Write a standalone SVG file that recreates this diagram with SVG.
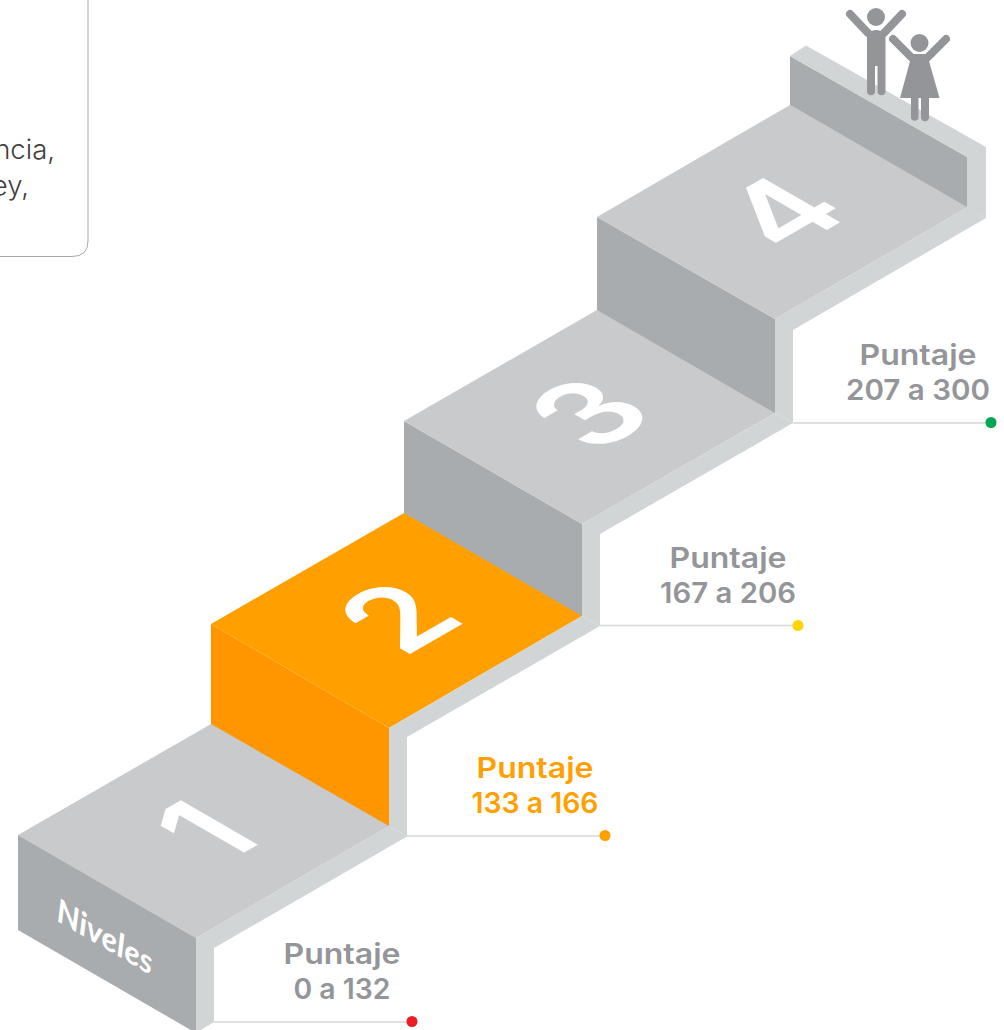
<svg xmlns="http://www.w3.org/2000/svg" width="1004" height="1030" viewBox="0 0 1004 1030">
<style>
.top{fill:#c8cacc}.riser{fill:#a8acae}.light{fill:#d1d5d6}
.lead{stroke:#d5d7d8;stroke-width:1.5;fill:none}
.score{font-family:"Inter","Liberation Sans",sans-serif;font-weight:600;font-size:28.500px;text-anchor:middle;fill:#939598}
.on{fill:#ff9f00}
.num{font-family:"Inter","Liberation Sans",sans-serif;font-weight:600;font-size:122px;text-anchor:middle;fill:#fff}
.note{font-family:"Inter","Liberation Sans",sans-serif;font-weight:300;font-size:27.500px;text-anchor:end;fill:#414042}
.fig{fill:#939598}.limb{stroke:#939598;stroke-width:8;stroke-linecap:round;fill:none}
</style>
<g id="note-box"><path d="M-2 256.500H72Q88 256.500 88 241V-2" fill="#fff" stroke="#a7a9ac" stroke-width="1"/>
<text class="note" x="55" y="159">ncia,</text><text class="note" x="29" y="195">ey,</text></g>
<g id="step-1">
<polygon class="top" points="18,835 211,724 240,730 389,815 389,826 196,938"/>
<polygon class="riser" points="18,835 196,938 196,1033 18,930"/>
<polygon class="light" points="196,938 389,826 407,836.500 214,948 214,1022 196,1033"/>
<text class="num" transform="matrix(.866,-.5,.866,.5,243,853)">1</text>
<text transform="matrix(.866,.5,0,1,57,921)" font-family="Lato,'Liberation Sans',sans-serif" font-weight="700" font-style="italic" font-size="34" fill="#fff" textLength="110" lengthAdjust="spacingAndGlyphs">Niveles</text>
</g>
<g id="step-2">
<polygon points="211,624 389,728 389,826 211,724" fill="#ff9600"/>
<polygon points="211,624 404,513 430,515 582,605 582,616 389,728" fill="#ff9f00"/>
<polygon class="light" points="389,728 582,616 600,626 407,737 407,836.500 389,826"/>
<text class="num" transform="matrix(.866,-.5,.866,.5,436,639)">2</text>
</g>
<g id="step-3">
<polygon class="riser" points="404,421 582,524 582,616 404,513"/>
<polygon class="top" points="404,421 597,310 620,315 775,405 775,413 582,524"/>
<polygon class="light" points="582,524 775,413 793,423 600,534 600,626 582,616"/>
<text class="num" transform="matrix(.866,-.5,.866,.5,627,435)">3</text>
</g>
<g id="step-4">
<polygon class="riser" points="597,217 775,319 775,413 597,310"/>
<polygon class="top" points="597,217 790,105 968,207 775,319"/>
<polygon class="light" points="775,319 968,207 986,218 793,330 793,423 775,413"/>
<polygon class="riser" points="790,56 967,157 967,207 790,105"/>
<polygon class="light" points="790,56 806,45.500 986,147 986,218 967,207 967,157"/>
<text class="num" transform="matrix(.866,-.5,.866,.5,820,234)">4</text>
</g>
<g id="people">
<circle class="fig" cx="876" cy="17" r="9"/>
<path class="limb" d="M850 14L868 33M902 14L884 33"/>
<path class="fig" d="M867 34Q876 26 885.500 34V92.500A4.300 4.300 0 0 1 877.500 92.500V66H875V92.500A4.300 4.300 0 0 1 867 92.500Z"/>
<circle class="fig" cx="919.500" cy="43" r="9"/>
<path class="limb" d="M893 39L912 58M946 39L927 58"/>
<path class="fig" d="M912 54H927L939.500 98H929V118.500A4.300 4.300 0 0 1 921 118.500V98H918.500V118.500A4.300 4.300 0 0 1 911 118.500V98H900Z"/>
</g>
<g id="connectors">
<path class="lead" d="M214 1022H412M407 836H605M600 625.500H798M793 423H991"/>
</g>
<g id="score-1"><text class="score" x="342" y="964" textLength="117" lengthAdjust="spacingAndGlyphs">Puntaje</text><text class="score" x="342" y="999" textLength="97" lengthAdjust="spacingAndGlyphs">0 a 132</text><circle cx="412" cy="1021.500" r="5.500" fill="#ed1c24"/></g>
<g id="score-2"><text class="score on" x="535" y="778" textLength="117" lengthAdjust="spacingAndGlyphs">Puntaje</text><text class="score on" x="535" y="813" textLength="127" lengthAdjust="spacingAndGlyphs">133 a 166</text><circle cx="605" cy="835.500" r="5.500" fill="#ff9f00"/></g>
<g id="score-3"><text class="score" x="728" y="568" textLength="117" lengthAdjust="spacingAndGlyphs">Puntaje</text><text class="score" x="728" y="603" textLength="136" lengthAdjust="spacingAndGlyphs">167 a 206</text><circle cx="798" cy="625.500" r="5.500" fill="#ffd400"/></g>
<g id="score-4"><text class="score" x="918" y="365" textLength="117" lengthAdjust="spacingAndGlyphs">Puntaje</text><text class="score" x="918" y="400" textLength="144" lengthAdjust="spacingAndGlyphs">207 a 300</text><circle cx="991" cy="422.500" r="5.500" fill="#00a651"/></g>
</svg>
